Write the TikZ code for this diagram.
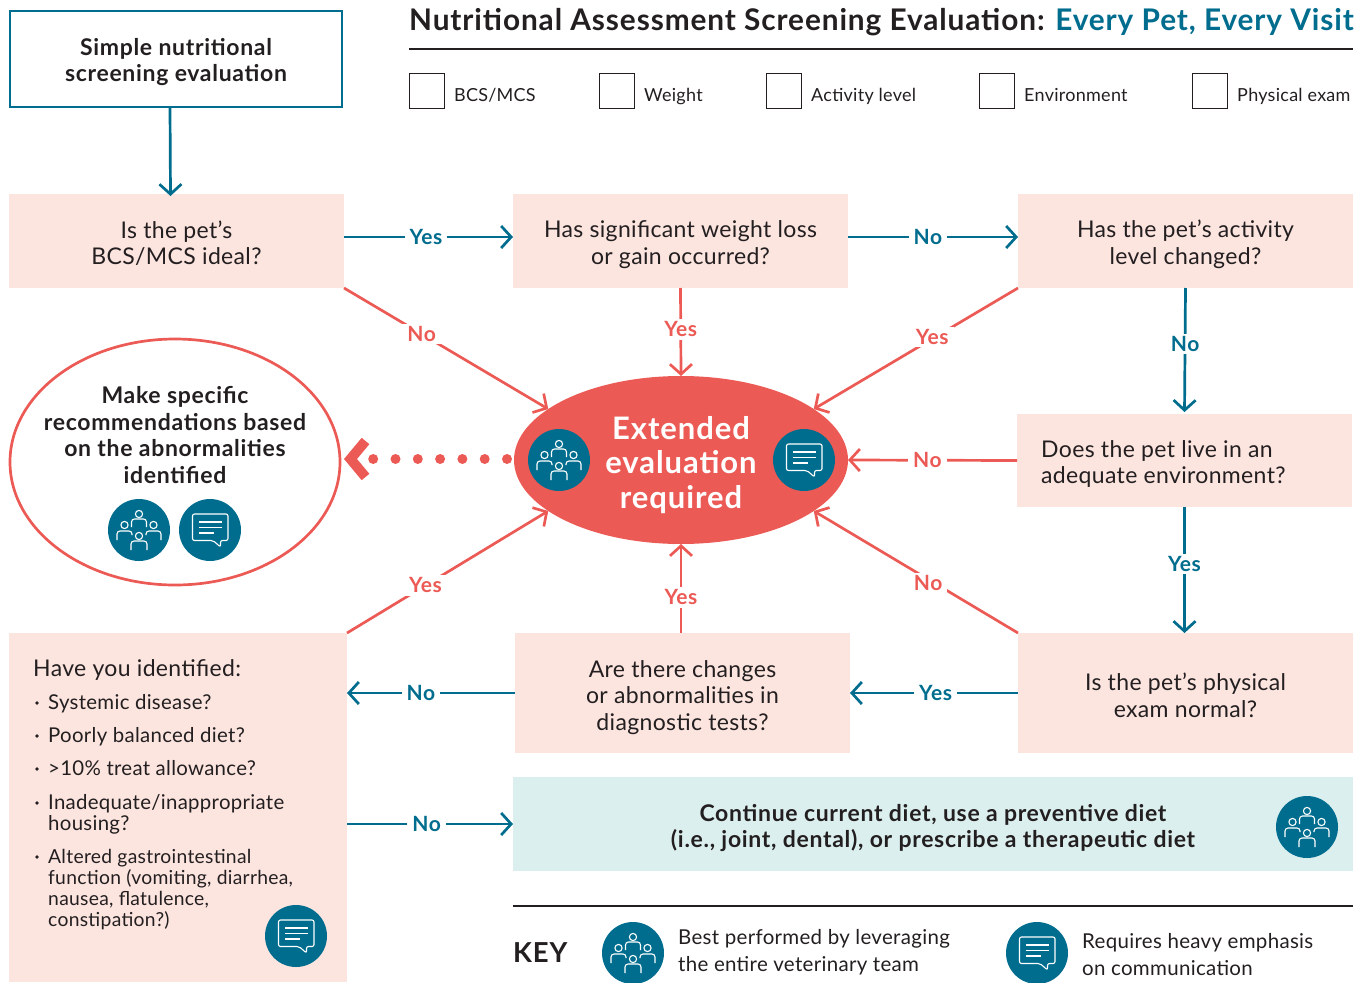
\documentclass[tikz,border=0pt]{standalone}
\usepackage{fontspec}
\setmainfont{Lato}[LetterSpace=1.5,BoldFeatures={LetterSpace=3}]
\usepackage{tikz}
\usetikzlibrary{arrows.meta,positioning,shapes.geometric}
\definecolor{tealc}{HTML}{006D8F}
\definecolor{coral}{HTML}{EC5A55}
\definecolor{pinkbg}{HTML}{FCE4DF}
\definecolor{mintbg}{HTML}{DCEFEF}
\definecolor{inkc}{HTML}{231F20}
\newcommand{\fsz}[2]{\fontsize{#1}{#2}\selectfont}
\newcommand{\topgap}[1]{\rule{0pt}{#1pt}}
\tikzset{
	question/.style={fill=pinkbg,text=inkc,align=center,inner sep=0,outer sep=0,font=\fsz{23}{26.5}},
	flowteal/.style={draw=tealc,line width=2.7pt,-{Straight Barb[length=10pt,width=22pt]}},
	flowcoral/.style={draw=coral,line width=2.7pt,-{Straight Barb[length=10pt,width=22pt]}},
	tlabel/.style={fill=white,text=tealc,inner xsep=5pt,inner ysep=2.5pt,font=\bfseries\fsz{21}{24}},
	clabel/.style={fill=white,text=coral,inner xsep=5pt,inner ysep=2.5pt,font=\bfseries\fsz{21}{24}},
	checkbox/.style={draw=inkc,line width=0.9pt,minimum size=35pt,inner sep=0,outer sep=0},
	checktext/.style={text=inkc,inner sep=0,text height=14pt,text depth=4pt,font=\fsz{18}{24}},
	listitem/.style={anchor=north west,text=inkc,align=left,inner sep=0,font=\fsz{20.4}{21}},
	keytext/.style={anchor=west,text=inkc,align=left,inner sep=0,font=\fsz{20.5}{27}},
	teamicon/.pic={
		\fill[tealc] (0,0) circle (31);
		\begin{scope}[draw=white,line width=1.1pt,rounded corners=3pt]
			\foreach \hx/\hy in {0/-16,-14.5/-5,14.5/-5,0/6} \draw (\hx,\hy) circle (3.6);
			\draw (-7.5,-3) -- (-7.5,-11) -- (7.5,-11) -- (7.5,-3);
			\draw (-22,10) -- (-22,1) -- (-7,1) -- (-7,5);
			\draw (22,10) -- (22,1) -- (7,1) -- (7,5);
			\draw (-8,20) -- (-8,11) -- (8,11) -- (8,20);
		\end{scope}
	},
	chaticon/.pic={
		\fill[tealc] (0,0) circle (31);
		\begin{scope}[draw=white,line width=1.1pt]
			\draw[rounded corners=2pt] (-17.5,-16) -- (18,-16) -- (18,10.5) -- (10.5,10.5) -- (10.5,17) -- (3,10.5) -- (-17.5,10.5) -- cycle;
			\draw (-11,-8) -- (11.5,-8);
			\draw (-11,-2.5) -- (11.5,-2.5);
			\draw (-11,3) -- (3.5,3);
		\end{scope}
	}
}
\begin{document}
\begin{tikzpicture}[x=1pt,y=-1pt]
	\useasboundingbox (0,0) rectangle (1367,982);
	% heading and check list
	\node[anchor=west,inner sep=0,text=inkc,font=\bfseries\fsz{29.8}{32}] (heading) at (409,22) {Nutritional Assessment Screening Evaluation: \textcolor{tealc}{Every Pet, Every Visit}};
	\draw[inkc,line width=1.2pt] (409,49) -- (1353,49);
	\foreach \nm/\cx/\txt in {cbA/426.5/BCS\slash MCS,cbB/616.5/Weight,cbC/783.5/Activity level,cbD/996.5/Environment,cbE/1209.5/Physical exam} {
		\node[checkbox] (\nm) at (\cx,90.5) {};
		\node[checktext,right=10pt of \nm,yshift=-5.5pt] (\nm txt) {\txt};
	}
	% start box and questions
	\node[draw=tealc,line width=2.7pt,minimum width=332pt,minimum height=96pt,align=center,text=inkc,inner sep=0,outer sep=0,font=\bfseries\fsz{23}{26.5}] (start) at (176,59) {\topgap{23}Simple nutritional\\screening evaluation};
	\node[question,minimum width=335pt,minimum height=94pt] (qbcs) at (176.5,241) {\topgap{22}Is the pet’s\\BCS/MCS ideal?};
	\node[question,minimum width=335pt,minimum height=94pt] (qweight) at (680.5,241) {\topgap{24}Has significant weight loss\\or gain occurred?};
	\node[question,minimum width=335pt,minimum height=94pt] (qactive) at (1185.5,241) {\topgap{24}Has the pet’s activity\\level changed?};
	\node[fill=pinkbg,inner sep=0,outer sep=0,minimum width=335pt,minimum height=93pt] (qenv) at (1184.5,460.5) {};
	\node[anchor=west,align=left,inner sep=0,text=inkc,font=\fsz{23}{26.5}] (qenvtxt) at (1041,464) {Does the pet live in an\\adequate environment?};
	\node[question,minimum width=335pt,minimum height=120pt] (qexam) at (1185.5,693) {\topgap{22}Is the pet’s physical\\exam normal?};
	\node[question,minimum width=335pt,minimum height=120pt] (qtests) at (682.5,693) {\topgap{26}Are there changes\\or abnormalities in\\diagnostic tests?};
	\node[fill=pinkbg,inner sep=0,outer sep=0,minimum width=338pt,minimum height=349pt] (qlist) at (178,807.5) {};
	\node[fill=mintbg,text=inkc,align=center,inner sep=0,outer sep=0,minimum width=840pt,minimum height=94pt,font=\bfseries\fsz{23}{26.5}] (keepdiet) at (933,824) {\topgap{25}Continue current diet, use a preventive diet\\(i.e., joint, dental), or prescribe a therapeutic diet};
	% ovals
	\node[ellipse,fill=coral,text=white,align=center,inner sep=0,outer sep=0,minimum width=334pt,minimum height=168pt,font=\bfseries\fsz{31}{34.5}] (extended) at (681,460) {\topgap{33}Extended\\evaluation\\required};
	\node[ellipse,draw=coral,line width=2.7pt,inner sep=0,outer sep=0,minimum width=330pt,minimum height=246pt] (advice) at (175,462) {};
	\node[align=center,inner sep=0,text=inkc,font=\bfseries\fsz{23}{26.5}] (advicetxt) at (175,435) {Make specific\\recommendations based\\on the abnormalities\\identified};
	% list of the last question
	\node[anchor=west,inner sep=0,text=inkc,font=\fsz{23}{26}] (listhead) at (33,670) {Have you identified:};
	\foreach \by in {703,736,769,803,857} \fill[inkc] (37,\by) circle (1.8);
	\node[listitem] (itemA) at (48,694) {Systemic disease?};
	\node[listitem] (itemB) at (48,727) {Poorly balanced diet?};
	\node[listitem] (itemC) at (48,760) {>10\% treat allowance?};
	\node[listitem] (itemD) at (48,794) {Inadequate/inappropriate\\housing?};
	\node[listitem,font=\fsz{19.3}{21}] (itemE) at (48,849) {Altered gastrointestinal\\function (vomiting, diarrhea,\\nausea, flatulence,\\constipation?)};
	% teal connectors
	\draw[flowteal] ([xshift=-6pt]start.south) -- ([xshift=-6pt,yshift=-2pt]qbcs.north);
	\draw[flowteal] ([yshift=4pt]qbcs.east) -- ([yshift=4pt]qweight.west) node[tlabel,pos=0.485] (yesA) {Yes};
	\draw[flowteal] ([yshift=4pt]qweight.east) -- ([yshift=4pt]qactive.west) node[tlabel,pos=0.47] (noA) {No};
	\draw[flowteal] (qactive.south) -- ([yshift=2pt]qenv.north) node[tlabel,pos=0.45] (noB) {No};
	\draw[flowteal] (qenv.south) -- (qenv.south |- qexam.north) node[tlabel,pos=0.45] (yesB) {Yes};
	\draw[flowteal] (qexam.west) -- (qtests.east) node[tlabel,pos=0.49] (yesC) {Yes};
	\draw[flowteal] (qtests.west) -- (qtests.west -| qlist.east) node[tlabel,pos=0.56] (noC) {No};
	\draw[flowteal] (keepdiet.west -| qlist.east) -- (keepdiet.west) node[tlabel,pos=0.48] (noD) {No};
	% coral connectors
	\draw[flowcoral] (qbcs.south east) -- (extended.159) node[clabel,pos=0.38] (noE) {No};
	\draw[flowcoral] (qweight.south) -- (extended.north) node[clabel,pos=0.47] (yesD) {Yes};
	\draw[flowcoral] (qactive.south west) -- (extended.21) node[clabel,pos=0.42,yshift=2pt] (yesE) {Yes};
	\draw[flowcoral] (qenv.west) -- (extended.east) node[clabel,pos=0.53] (noF) {No};
	\draw[flowcoral] (qexam.north west) -- (extended.339) node[clabel,pos=0.44,yshift=-4pt] (noG) {No};
	\draw[flowcoral] (extended.south |- qtests.north) -- (extended.south) node[clabel,pos=0.4] (yesF) {Yes};
	\draw[flowcoral] (qlist.north east) -- (extended.201) node[clabel,pos=0.39] (yesG) {Yes};
	% dotted arrow
	\coordinate (dotstart) at ([xshift=-7pt,yshift=1pt]extended.west);
	\draw[coral,line width=10pt,line cap=round,dash pattern=on 0pt off 22.3pt,-{Straight Barb[length=15pt,width=36pt]}] (dotstart) -- ([xshift=4pt]dotstart -| advice.east);
	% icons
	\pic (teamA) at (559,460) {teamicon};
	\pic (chatA) at (804,460) {chaticon};
	\pic (teamB) at (139,530) {teamicon};
	\pic (chatB) at (210,530) {chaticon};
	\pic (teamC) at (1307,827) {teamicon};
	\pic (chatC) at (296,936) {chaticon};
	% key
	\draw[inkc,line width=1.2pt] (513,906) -- (1353,906);
	\node[anchor=west,inner sep=0,text=inkc,font=\bfseries\fsz{27.5}{30}] (keyhead) at (513,953) {KEY};
	\pic (teamD) at (633,953) {teamicon};
	\pic (chatD) at (1037,953) {chaticon};
	\node[keytext] (keyA) at (678,952) {Best performed by leveraging\\the entire veterinary team};
	\node[keytext] (keyB) at (1082,955) {Requires heavy emphasis\\on communication};
\end{tikzpicture}
\end{document}
